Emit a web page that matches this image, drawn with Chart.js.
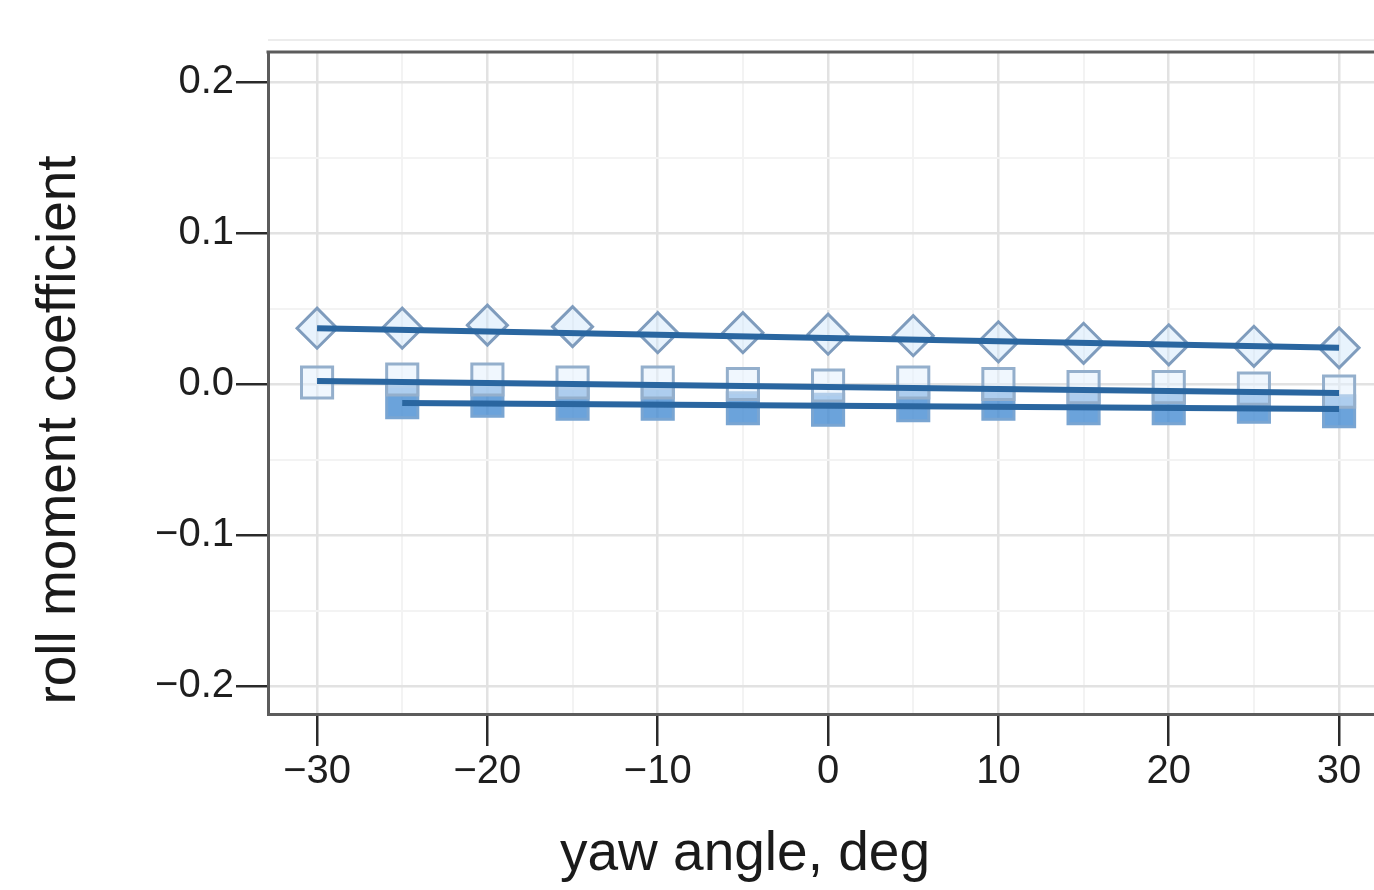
<!DOCTYPE html>
<html>
<head>
<meta charset="utf-8">
<script src="https://cdn.jsdelivr.net/npm/chart.js@4"></script>
<style>
  html, body { margin: 0; padding: 0; background: #fff; }
  #wrap { width: 1374px; height: 890px; position: relative; }
</style>
</head>
<body>
<div id="wrap"><canvas id="rollChart"></canvas></div>
<script>
// yaw sweep, deg
const yawAngles = [-30, -25, -20, -15, -10, -5, 0, 5, 10, 15, 20, 25, 30];

// measured roll moment coefficient
const diamondValues     = [0.037, 0.037, 0.039, 0.038, 0.034, 0.034, 0.033, 0.032, 0.028, 0.027, 0.026, 0.025, 0.024];
const openSquareValues  = [0.001, 0.003, 0.003, 0.001, 0.001, 0.000, -0.001, 0.001, 0.000, -0.002, -0.002, -0.003, -0.005];
const filledSquareValues = [null, -0.012, -0.011, -0.013, -0.013, -0.016, -0.017, -0.014, -0.013, -0.016, -0.016, -0.015, -0.018];

// straight-line fits through each set
const diamondFitX = [-30, 30];
const diamondFitY = [0.037, 0.024];
const openFitX = [-30, 30];
const openFitY = [0.002, -0.006];
const filledFitX = [-25, 30];
const filledFitY = [-0.0125, -0.0165];

const xTickValues = [-30, -20, -10, 0, 10, 20, 30];
const xTickText   = ['\u221230', '\u221220', '\u221210', '0', '10', '20', '30'];
const yTickValues = [-0.2, -0.1, 0, 0.1, 0.2];
const yTickText   = ['\u22120.2', '\u22120.1', '0.0', '0.1', '0.2'];

const xTitle = 'yaw angle, deg';
const yTitle = 'roll moment coefficient';
const titleFont = '55px "Liberation Sans", Arial, sans-serif';

const pts = (xs, ys) => xs.map((x, i) => ({x: x, y: ys[i]})).filter(p => p.y !== null);

const fitLine = (xs, ys) => ({
  data: pts(xs, ys),
  showLine: true,
  borderColor: '#2a66a0',
  borderWidth: 6,
  pointRadius: 0,
  order: 0
});

const isMajorX = v => Math.abs(Math.round(v) % 10) === 0;
const isMajorY = v => Math.abs(Math.round(v * 100) % 10) === 0;

const labelFor = (vals, text, v, eps) => {
  const i = vals.findIndex(t => Math.abs(t - v) < eps);
  return i < 0 ? '' : text[i];
};

// top frame line + axis titles (titles sit off-centre from the plot area)
const frameAndTitles = {
  id: 'frameAndTitles',
  afterDraw(chart) {
    const {ctx, chartArea: a} = chart;
    ctx.save();
    ctx.strokeStyle = '#ececec';
    ctx.lineWidth = 2;
    ctx.beginPath(); ctx.moveTo(a.left, a.top - 12); ctx.lineTo(a.right, a.top - 12); ctx.stroke();
    ctx.strokeStyle = '#5c5c5c';
    ctx.lineWidth = 3;
    ctx.beginPath(); ctx.moveTo(a.left - 1.5, a.top); ctx.lineTo(a.right, a.top); ctx.stroke();

    ctx.fillStyle = '#1a1a1a';
    ctx.font = titleFont;
    ctx.textAlign = 'center';
    ctx.textBaseline = 'alphabetic';
    ctx.fillText(xTitle, 745, 870);
    ctx.translate(75, 430);
    ctx.rotate(-Math.PI / 2);
    ctx.fillText(yTitle, 0, 0);
    ctx.restore();
  }
};

const ctx = document.getElementById('rollChart').getContext('2d');
const rollChart = new Chart(ctx, {
  type: 'scatter',
  data: {
    datasets: [
      fitLine(diamondFitX, diamondFitY),
      fitLine(openFitX, openFitY),
      fitLine(filledFitX, filledFitY),
      {
        data: pts(yawAngles, diamondValues),
        pointStyle: 'rectRot', pointRadius: 20,
        borderColor: '#7f9cbd', borderWidth: 3,
        backgroundColor: 'rgba(205,228,250,0.45)',
        order: 1
      },
      {
        data: pts(yawAngles, openSquareValues),
        pointStyle: 'rect', pointRadius: 22,
        borderColor: '#94afcc', borderWidth: 3,
        backgroundColor: 'rgba(228,241,253,0.55)',
        order: 2
      },
      {
        data: pts(yawAngles, filledSquareValues),
        pointStyle: 'rect', pointRadius: 22,
        borderColor: '#79a5d2', borderWidth: 3,
        backgroundColor: 'rgba(70,140,210,0.8)',
        order: 3
      }
    ]
  },
  options: {
    responsive: true,
    maintainAspectRatio: false,
    animation: false,
    layout: {autoPadding: false, padding: {top: 52, left: 0, right: 0, bottom: 0}},
    plugins: {legend: {display: false}, tooltip: {enabled: false}},
    elements: {point: {hoverRadius: 0}},
    scales: {
      x: {
        type: 'linear',
        min: -32.88, max: 32.05,
        afterFit: s => { s.height = 176; s.paddingLeft = 0; s.paddingRight = 0; },
        border: {display: true, color: '#5c5c5c', width: 3},
        grid: {
          color: c => isMajorX(c.tick.value) ? '#e2e2e2' : '#f3f3f3',
          lineWidth: c => isMajorX(c.tick.value) ? 2.5 : 2,
          tickColor: c => isMajorX(c.tick.value) ? '#2a2a2a' : 'rgba(0,0,0,0)',
          tickWidth: 2.5,
          tickLength: 32
        },
        ticks: {
          stepSize: 5, includeBounds: false, autoSkip: false, maxRotation: 0,
          padding: 2,
          color: '#1e1e1e',
          font: {family: 'Liberation Sans, Arial, sans-serif', size: 40},
          callback: v => labelFor(xTickValues, xTickText, v, 0.01)
        }
      },
      y: {
        type: 'linear',
        min: -0.2185, max: 0.2199,
        afterFit: s => { s.width = 268; s.paddingTop = 0; s.paddingBottom = 0; },
        border: {display: true, color: '#5c5c5c', width: 3},
        grid: {
          color: c => isMajorY(c.tick.value) ? '#e2e2e2' : '#f3f3f3',
          lineWidth: c => isMajorY(c.tick.value) ? 2.5 : 2,
          tickColor: c => isMajorY(c.tick.value) ? '#2a2a2a' : 'rgba(0,0,0,0)',
          tickWidth: 2.5,
          tickLength: 32
        },
        ticks: {
          stepSize: 0.05, includeBounds: false, autoSkip: false,
          padding: 2,
          color: '#1e1e1e',
          font: {family: 'Liberation Sans, Arial, sans-serif', size: 40},
          callback: v => labelFor(yTickValues, yTickText, v, 0.001)
        }
      }
    }
  },
  plugins: [frameAndTitles]
});
</script>
</body>
</html>
